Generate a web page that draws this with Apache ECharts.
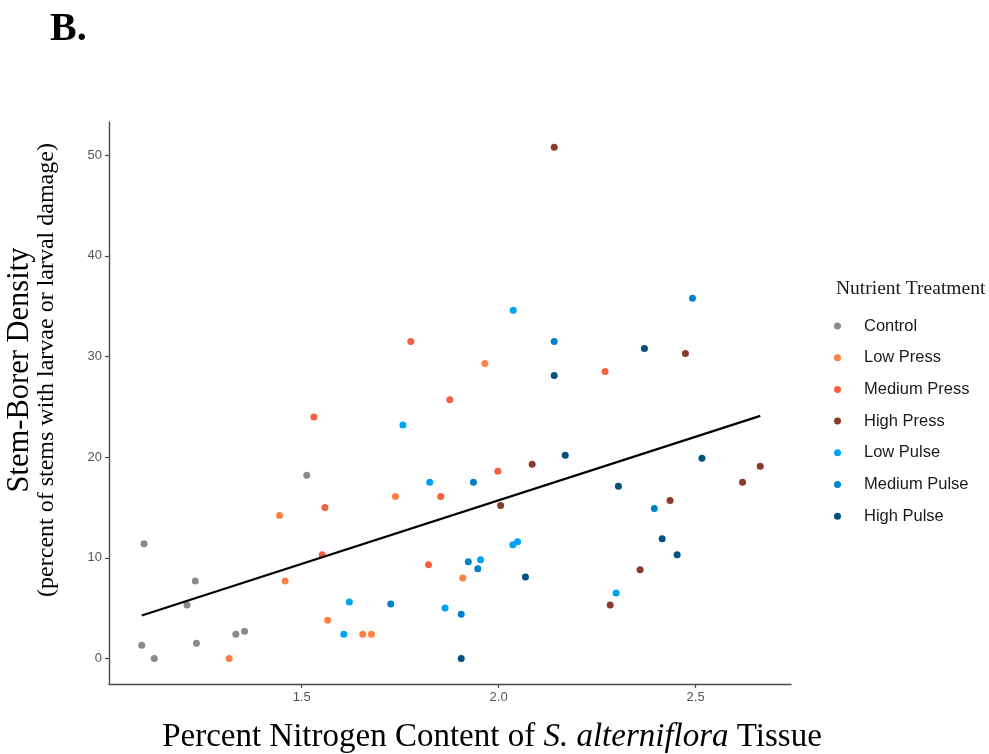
<!DOCTYPE html>
<html>
<head>
<meta charset="utf-8">
<script src="https://cdn.jsdelivr.net/npm/echarts@6/dist/echarts.min.js"></script>
<style>
html,body{margin:0;padding:0;background:#fff;}
#chart{width:989px;height:754px;}
</style>
</head>
<body>
<div id="chart"></div>
<script>
// ---- data ----
const treatments = ["Control","Low Press","Medium Press","High Press","Low Pulse","Medium Pulse","High Pulse"];
const colors = ["#848c8c","#ff8044","#f5603e","#8b3b2b","#00a2f2","#0082cb","#03517f"];

const control = [[1.100,11.4],[1.094,1.3],[1.126,0.0],[1.230,7.7],[1.209,5.3],[1.233,1.5],[1.333,2.4],[1.355,2.7],[1.513,18.2]];
const lowPress = [[1.444,14.2],[1.458,7.7],[1.566,3.8],[1.655,2.4],[1.677,2.4],[1.738,16.1],[1.909,8.0],[1.316,0.0],[1.965,29.3]];
const mediumPress = [[1.531,24.0],[1.559,15.0],[1.552,10.3],[1.853,16.1],[1.822,9.3],[1.777,31.5],[1.876,25.7],[1.998,18.6],[2.270,28.5]];
const highPress = [[2.141,50.8],[2.474,30.3],[2.085,19.3],[2.005,15.2],[2.664,19.1],[2.619,17.5],[2.435,15.7],[2.359,8.8],[2.283,5.3]];
const lowPulse = [[1.757,23.2],[1.825,17.5],[1.621,5.6],[1.607,2.4],[1.864,5.0],[2.037,34.6],[2.036,11.3],[2.048,11.6],[1.954,9.8],[2.298,6.5]];
const mediumPulse = [[1.936,17.5],[2.141,31.5],[2.492,35.8],[1.726,5.4],[1.923,9.6],[1.947,8.9],[1.905,4.4],[2.395,14.9]];
const highPulse = [[2.370,30.8],[2.141,28.1],[2.169,20.2],[2.516,19.9],[2.304,17.1],[2.415,11.9],[2.453,10.3],[2.068,8.1],[1.905,0.0]];

// fitted regression line (endpoints)
const fitLine = [[1.094,4.27],[2.664,24.1]];

const xTicks = [1.5,2.0,2.5];
const yTicks = [0,10,20,30,40,50];
const xRange = [1.011,2.742];
const yRange = [-2.54,53.3];

const groups = [control,lowPress,mediumPress,highPress,lowPulse,mediumPulse,highPulse];

const serif = '"Liberation Serif","DejaVu Serif",serif';
const sans = '"Liberation Sans",Arial,sans-serif';

const chart = echarts.init(document.getElementById('chart'), null, {renderer:'canvas'});

const series = treatments.map((name,i)=>({
  name: name,
  type: 'scatter',
  data: groups[i],
  symbol: 'circle',
  symbolSize: 7,
  itemStyle: {color: colors[i], opacity: 1},
  z: 3
}));
series.push({
  name: 'fit',
  type: 'line',
  data: fitLine,
  showSymbol: false,
  symbol: 'none',
  lineStyle: {color: '#000', width: 2.2},
  z: 4,
  silent: true
});

chart.setOption({
  animation: false,
  backgroundColor: '#fff',
  grid: {left:109, top:122, width:682, height:562, containLabel:false},
  xAxis: {
    type: 'value',
    min: xRange[0], max: xRange[1],
    axisLine: {show:true, onZero:false, lineStyle:{color:'#4a4a4a', width:1.4}},
    axisTick: {show:true, length:4, lineStyle:{color:'#4a4a4a', width:1.2}, customValues: xTicks},
    axisLabel: {customValues: xTicks, color:'#555', fontFamily: sans, fontSize: 13, margin: 7,
      formatter: v => v.toFixed(1)},
    splitLine: {show:false}
  },
  yAxis: {
    type: 'value',
    min: yRange[0], max: yRange[1],
    axisLine: {show:true, onZero:false, lineStyle:{color:'#4a4a4a', width:1.4}},
    axisTick: {show:true, length:4, lineStyle:{color:'#4a4a4a', width:1.2}, customValues: yTicks},
    axisLabel: {customValues: yTicks, color:'#555', fontFamily: sans, fontSize: 13, margin: 7},
    splitLine: {show:false}
  },
  legend: {
    data: treatments,
    orient: 'vertical',
    left: 829, top: 312,
    icon: 'circle',
    itemWidth: 7, itemHeight: 7,
    itemGap: 13.7,
    textStyle: {fontFamily: sans, fontSize: 16.5, color:'#1a1a1a', lineHeight: 18, padding:[0,0,0,18]},
    selectedMode: false
  },
  graphic: [
    {type:'text', left: 50, top: 10, style:{text:'B.', font:'bold 40px ' + serif, fill:'#000'}},
    {type:'text', left: 836, top: 279, style:{text:'Nutrient Treatment', font:'19.5px ' + serif, fill:'#1a1a1a'}},
    {type:'text', x: 20, y: 370, rotation: Math.PI/2,
      style:{text:'Stem-Borer Density', font:'30.5px ' + serif, fill:'#000', align:'center', verticalAlign:'middle'}},
    {type:'text', x: 47, y: 370, rotation: Math.PI/2,
      style:{text:'(percent of stems with larvae or larval damage)', font:'24px ' + serif, fill:'#000', align:'center', verticalAlign:'middle'}},
    {type:'text', x: 492, y: 737,
      style:{
        text:'Percent Nitrogen Content of {i|S. alterniflora} Tissue',
        font:'33px ' + serif, fill:'#000', align:'center', verticalAlign:'middle',
        rich:{i:{fontStyle:'italic', fontFamily: serif, fontSize: 33, fill:'#000'}}
      }}
  ],
  series: series
});
</script>
</body>
</html>
